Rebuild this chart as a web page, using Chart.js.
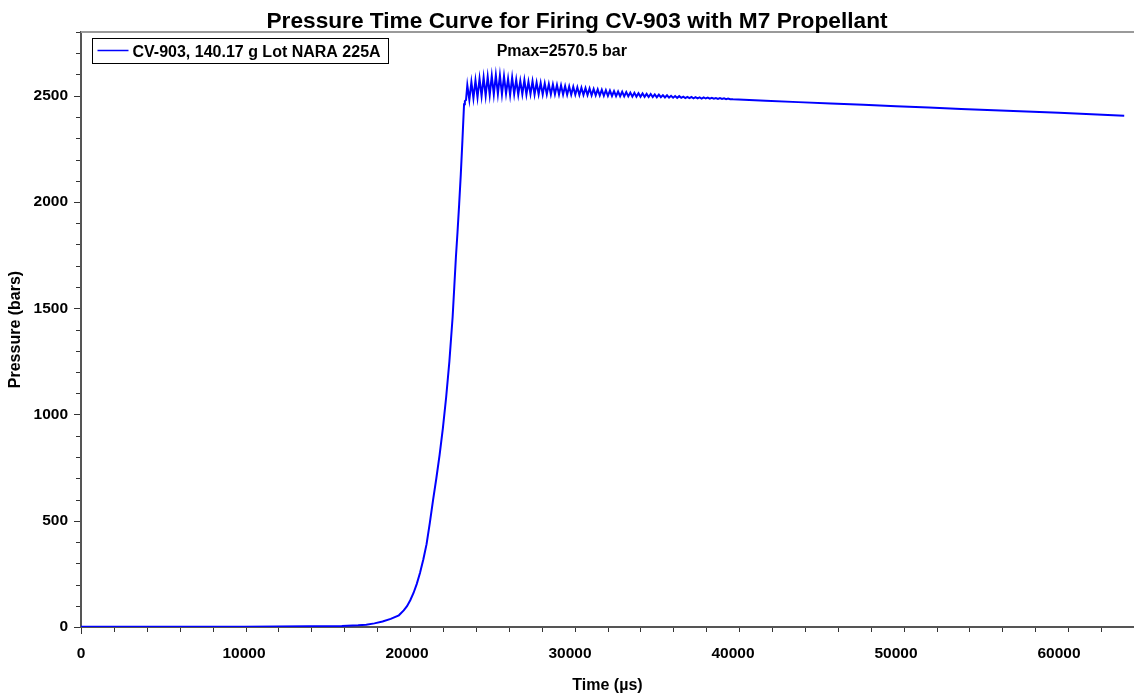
<!DOCTYPE html>
<html><head><meta charset="utf-8">
<script src="https://cdn.jsdelivr.net/npm/chart.js@4.4.1/dist/chart.umd.min.js"></script>
<style>html,body{margin:0;padding:0;background:#fff;} canvas{display:block;}</style>
</head><body>
<canvas id="c" width="1134" height="697"></canvas>
<script>
const chartTitle = 'Pressure Time Curve for Firing CV-903 with M7 Propellant';
const seriesLabel = 'CV-903, 140.17 g Lot NARA 225A';
const pmaxLabel = 'Pmax=2570.5 bar';
const pmaxAt = [25500, 2685];
const xTitle = 'Time (\u00b5s)';
const yTitle = 'Pressure (bars)';

const xTickLabels = [0, 10000, 20000, 30000, 40000, 50000, 60000];
const yTickLabels = [0, 500, 1000, 1500, 2000, 2500];

const timeRise = [0, 2000, 4000, 6000, 8000, 10000, 12000, 14000, 15000, 16000,
  17000, 17500, 18000, 18500, 19000, 19500, 19800, 20000, 20200, 20400, 20600, 20800, 21000, 21200, 21400,
  21600, 21800, 22000, 22200, 22400, 22600, 22800, 22900, 23000, 23100, 23200, 23300, 23400, 23500, 23550, 23620];
const pressureRise = [1, 1, 1, 1, 1, 1, 2, 3, 4, 5,
  8, 11, 17, 26, 38, 55, 78, 98, 126, 160, 203, 255, 318, 390, 490,
  598, 700, 810, 935, 1080, 1250, 1460, 1600, 1740, 1860, 1990, 2130, 2290, 2460, 2475, 2480];

const timeOsc = [
  23700, 23825, 23950, 24075, 24200, 24325, 24450, 24575, 24700, 24825,
  24950, 25075, 25200, 25325, 25450, 25575, 25700, 25825, 25950, 26075,
  26200, 26325, 26450, 26575, 26700, 26825, 26950, 27075, 27200, 27325,
  27450, 27575, 27700, 27825, 27950, 28075, 28200, 28325, 28450, 28575,
  28700, 28825, 28950, 29075, 29200, 29325, 29450, 29575, 29700, 29825,
  29950, 30075, 30200, 30325, 30450, 30575, 30700, 30825, 30950, 31075,
  31200, 31325, 31450, 31575, 31700, 31825, 31950, 32075, 32200, 32325,
  32450, 32575, 32700, 32825, 32950, 33075, 33200, 33325, 33450, 33575,
  33700, 33825, 33950, 34075, 34200, 34325, 34450, 34575, 34700, 34825,
  34950, 35075, 35200, 35325, 35450, 35575, 35700, 35825, 35950, 36075,
  36200, 36325, 36450, 36575, 36700, 36825, 36950, 37075, 37200, 37325,
  37450, 37575, 37700, 37825, 37950, 38075, 38200, 38325, 38450, 38575,
  38700, 38825, 38950, 39075, 39200, 39325, 39450, 39575, 39700, 39825];
const pressureOsc = [
  2550, 2480, 2565, 2488, 2572, 2492, 2580, 2498, 2586, 2500,
  2590, 2504, 2594, 2506, 2597, 2508, 2596, 2507, 2592, 2510,
  2580, 2503, 2586, 2508, 2575, 2505, 2570, 2507, 2574, 2506,
  2566, 2508, 2568, 2506, 2562, 2507, 2560, 2506, 2558, 2507,
  2555, 2506, 2553, 2507, 2551, 2506, 2549, 2506, 2546, 2505,
  2544, 2505, 2542, 2505, 2540, 2504, 2538, 2504, 2536, 2503,
  2534, 2502, 2532, 2502, 2530, 2501, 2528, 2500, 2526, 2499,
  2524, 2499, 2522, 2498, 2520, 2498, 2519, 2497, 2517, 2497,
  2515, 2496, 2514, 2496, 2512, 2495, 2511, 2495, 2509, 2494,
  2508, 2494, 2506, 2493, 2505, 2493, 2503, 2492, 2502, 2491,
  2500, 2491, 2499, 2490, 2498, 2490, 2496, 2489, 2495, 2489,
  2494, 2488, 2493, 2488, 2492, 2487, 2492, 2487, 2491, 2486,
  2490, 2486, 2489, 2485, 2489, 2485, 2488, 2484, 2487, 2484];

const timeTail = [40000, 42000, 44000, 46000, 48000, 50000, 52000, 54000, 56000, 58000, 60000, 62000, 64000];
const pressureTail = [2483, 2477, 2470, 2464, 2458, 2451, 2445, 2438, 2432, 2426, 2420, 2413, 2406];

const allTimes = timeRise.concat(timeOsc, timeTail);
const allPressures = pressureRise.concat(pressureOsc, pressureTail);
const points = allTimes.map((t, i) => ({x: t, y: allPressures[i]}));

const FONT = "'Liberation Sans', Arial, Helvetica, sans-serif";
Chart.defaults.font.family = FONT;
Chart.defaults.font.weight = 'bold';
Chart.defaults.font.size = 15.5;
Chart.defaults.color = '#000';

const decor = {
  id: 'decor',
  afterDraw(chart) {
    const {ctx, chartArea: a} = chart;
    const xs = chart.scales.x, ys = chart.scales.y;
    ctx.save();
    // top frame line
    ctx.strokeStyle = '#9a9a9a';
    ctx.lineWidth = 2;
    ctx.beginPath(); ctx.moveTo(a.left, a.top); ctx.lineTo(a.right, a.top); ctx.stroke();
    // tick marks
    ctx.strokeStyle = '#333';
    ctx.lineWidth = 1;
    xs.ticks.forEach(t => {
      const px = Math.round(xs.getPixelForValue(t.value)) + 0.5;
      const len = xTickLabels.includes(t.value) ? 6 : 4;
      ctx.beginPath(); ctx.moveTo(px, a.bottom + 1); ctx.lineTo(px, a.bottom + 1 + len); ctx.stroke();
    });
    ys.ticks.forEach(t => {
      const py = Math.round(ys.getPixelForValue(t.value)) + 0.5;
      const len = yTickLabels.includes(t.value) ? 6 : 4;
      ctx.beginPath(); ctx.moveTo(a.left - 1, py); ctx.lineTo(a.left - 1 - len, py); ctx.stroke();
    });
    // x tick labels
    ctx.fillStyle = '#000';
    ctx.font = 'bold 15.5px ' + FONT;
    ctx.textAlign = 'center';
    ctx.textBaseline = 'alphabetic';
    xTickLabels.forEach(v => {
      ctx.fillText(String(v), xs.getPixelForValue(v), a.bottom + 31);
    });
    // title
    ctx.font = 'bold 22.7px ' + FONT;
    ctx.fillText(chartTitle, 577, 28);
    // Pmax annotation
    ctx.font = 'bold 16px ' + FONT;
    ctx.textAlign = 'left';
    ctx.fillText(pmaxLabel, xs.getPixelForValue(pmaxAt[0]), ys.getPixelForValue(pmaxAt[1]));
    // legend box
    const ds = chart.data.datasets[0];
    const bx = a.left + 11.5, by = a.top + 6.5, bw = 296, bh = 25;
    ctx.fillStyle = '#fff';
    ctx.fillRect(bx, by, bw, bh);
    ctx.strokeStyle = '#000';
    ctx.lineWidth = 1;
    ctx.strokeRect(bx, by, bw, bh);
    ctx.strokeStyle = ds.borderColor;
    ctx.lineWidth = 1.5;
    ctx.beginPath(); ctx.moveTo(bx + 5, by + 12); ctx.lineTo(bx + 36, by + 12); ctx.stroke();
    ctx.fillStyle = '#000';
    ctx.fillText(ds.label, bx + 40, by + 18.5);
    ctx.restore();
  }
};

new Chart(document.getElementById('c'), {
  type: 'line',
  data: {
    datasets: [{
      label: seriesLabel,
      data: points,
      borderColor: '#0000ff',
      borderWidth: 2,
      pointRadius: 0,
      tension: 0,
      fill: false
    }]
  },
  options: {
    responsive: false,
    animation: false,
    layout: {padding: {top: 32, right: 0, left: 0, bottom: 0}},
    plugins: {legend: {display: false}, title: {display: false}, tooltip: {enabled: false}},
    scales: {
      x: {
        type: 'linear',
        min: 0, max: 64600,
        grid: {display: true, drawOnChartArea: false, drawTicks: false},
        border: {display: true, color: '#555', width: 2},
        ticks: {display: false, stepSize: 2000, autoSkip: false, includeBounds: false},
        title: {display: true, text: xTitle, font: {size: 16, weight: 'bold'}, padding: {top: 0, bottom: 2}},
        afterFit: s => { s.height = 70; }
      },
      y: {
        type: 'linear',
        min: 0, max: 2800,
        grid: {display: true, drawOnChartArea: false, drawTicks: true, tickLength: 5, tickColor: 'rgba(0,0,0,0)'},
        border: {display: true, color: '#555', width: 2},
        ticks: {
          stepSize: 100, autoSkip: false, includeBounds: false, padding: 8,
          callback: v => yTickLabels.includes(v) ? String(v) : ''
        },
        title: {display: true, text: yTitle, font: {size: 16, weight: 'bold'}, padding: {top: 6, bottom: 0}},
        afterFit: s => { s.width = 81; }
      }
    }
  },
  plugins: [decor]
});
</script>
</body></html>
